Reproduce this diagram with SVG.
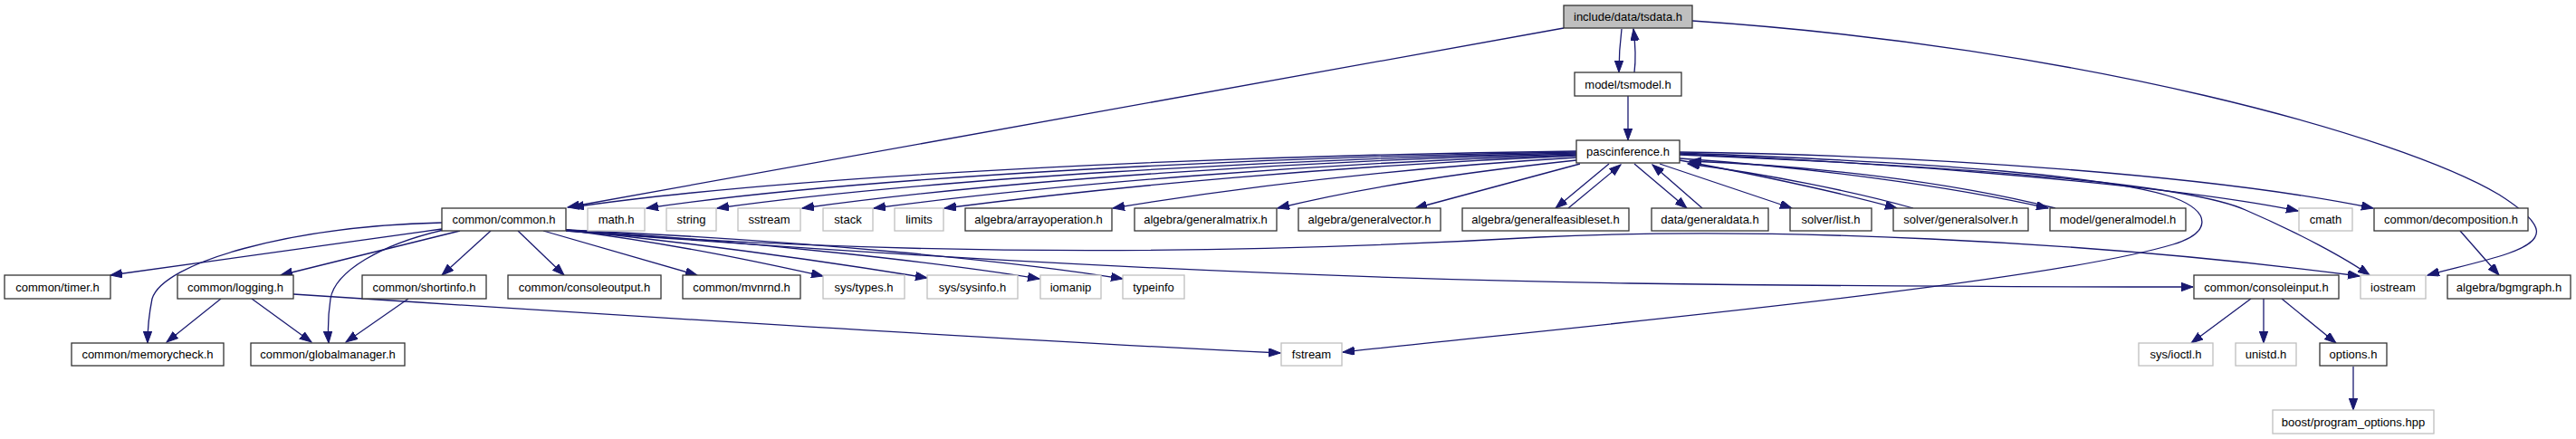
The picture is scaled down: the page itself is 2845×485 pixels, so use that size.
<svg xmlns="http://www.w3.org/2000/svg" width="2845" height="485" viewBox="0 0 2845 485">
<style>
.n rect{fill:#fff;stroke:#333;stroke-width:1.3}
.n.g rect{stroke:#bfbfbf}
.n.top rect{fill:#bfbfbf}
.n text{font-family:"Liberation Sans",Arial,sans-serif;font-size:13px;fill:#000;text-anchor:middle}
#edges path{fill:none;stroke:#191970;stroke-width:1.3;marker-end:url(#ah)}
</style>
<defs>
<marker id="ah" markerUnits="userSpaceOnUse" markerWidth="14" markerHeight="10" refX="13" refY="4.7" orient="auto">
<path d="M0,0 L13,4.7 L0,9.4 z" fill="#191970" stroke="#191970" stroke-width="1"/>
</marker>
</defs>
<rect width="2845" height="485" fill="#fff"/>
<g id="edges">
<path d="M1727,31 L627,229"/>
<path d="M1791,32 C1789,48 1788,64 1788,80"/>
<path d="M1805,80 C1807,64 1806,48 1804,32"/>
<path d="M1798,106 L1798,155"/>
<path d="M1869,23 C2300,52 2650,150 2760,215 C2815,250 2812,265 2770,280 C2740,290 2710,296 2681,304"/>
<path d="M1741,167 C1400,171 900,190 632,229"/>
<path d="M1741,168 C1400,173 950,195 714,230"/>
<path d="M1741,169 C1420,175 1020,198 792,230"/>
<path d="M1741,170 C1440,177 1100,200 886,230"/>
<path d="M1741,171 C1460,180 1170,203 965,230"/>
<path d="M1741,172 C1480,183 1230,206 1043,230"/>
<path d="M1741,174 C1560,185 1380,205 1229,230"/>
<path d="M1741,177 C1620,190 1500,208 1411,230"/>
<path d="M1745,181 L1563,230"/>
<path d="M1777,181 L1718,230"/>
<path d="M1732,230 L1790,182"/>
<path d="M1805,181 L1863,230"/>
<path d="M1880,230 L1825,182"/>
<path d="M1833,181 L1979,230"/>
<path d="M1855,177 C1950,195 2040,215 2095,230"/>
<path d="M2113,230 C2050,212 1950,192 1864,181"/>
<path d="M1855,175 C2000,185 2150,205 2262,230"/>
<path d="M2270,230 C2150,200 2000,183 1866,178"/>
<path d="M1855,170 C2100,180 2400,205 2538,233"/>
<path d="M1855,168 C2150,172 2450,195 2621,230"/>
<path d="M1855,171 C2200,185 2420,205 2480,232 C2540,258 2590,285 2617,304"/>
<path d="M1855,169 C2150,180 2330,195 2400,218 C2445,235 2440,258 2400,270 C2250,315 1700,365 1483,389"/>
<path d="M488,253 L122,304"/>
<path d="M488,246 C320,250 180,290 168,330 C164,350 163,365 163,379"/>
<path d="M490,254 C420,270 370,300 365,330 C362,350 362,365 363,379"/>
<path d="M508,255 L310,304"/>
<path d="M542,255 L488,304"/>
<path d="M572,255 L623,304"/>
<path d="M600,255 L770,304"/>
<path d="M625,254 C750,270 850,292 909,305"/>
<path d="M625,254 C800,272 950,295 1024,307"/>
<path d="M625,254 C850,268 1050,292 1148,308"/>
<path d="M625,254 C900,266 1130,290 1240,308"/>
<path d="M625,255 C850,272 1300,305 1800,313 C2100,317 2300,317 2422,317"/>
<path d="M625,255 C950,280 1300,285 1700,262 C1950,250 2300,265 2606,305"/>
<path d="M244,330 L184,378"/>
<path d="M278,330 L344,378"/>
<path d="M451,330 L382,378"/>
<path d="M324,325 C600,343 1100,375 1414,390"/>
<path d="M2486,330 L2420,379"/>
<path d="M2500,330 L2500,379"/>
<path d="M2520,330 L2580,379"/>
<path d="M2599,405 L2599,453"/>
<path d="M2717,255 L2760,304"/>
</g>
<g id="n_tsdata" class="n top"><rect x="1727" y="6" width="142" height="25"/><text x="1798" y="23">include/data/tsdata.h</text></g>
<g id="n_tsmodel" class="n"><rect x="1739" y="80" width="118" height="26"/><text x="1798" y="98">model/tsmodel.h</text></g>
<g id="n_pascinference" class="n"><rect x="1741" y="155" width="114" height="25"/><text x="1798" y="172">pascinference.h</text></g>
<g id="n_common" class="n"><rect x="488" y="230" width="137" height="25"/><text x="556.5" y="247">common/common.h</text></g>
<g id="n_math" class="n g"><rect x="649" y="230" width="63" height="25"/><text x="680.5" y="247">math.h</text></g>
<g id="n_string" class="n g"><rect x="736" y="230" width="55" height="25"/><text x="763.5" y="247">string</text></g>
<g id="n_sstream" class="n g"><rect x="815" y="230" width="69" height="25"/><text x="849.5" y="247">sstream</text></g>
<g id="n_stack" class="n g"><rect x="909" y="230" width="55" height="25"/><text x="936.5" y="247">stack</text></g>
<g id="n_limits" class="n g"><rect x="988" y="230" width="54" height="25"/><text x="1015" y="247">limits</text></g>
<g id="n_arrayoperation" class="n"><rect x="1066" y="230" width="162" height="25"/><text x="1147" y="247">algebra/arrayoperation.h</text></g>
<g id="n_generalmatrix" class="n"><rect x="1253" y="230" width="157" height="25"/><text x="1331.5" y="247">algebra/generalmatrix.h</text></g>
<g id="n_generalvector" class="n"><rect x="1434" y="230" width="157" height="25"/><text x="1512.5" y="247">algebra/generalvector.h</text></g>
<g id="n_generalfeasibleset" class="n"><rect x="1615" y="230" width="184" height="25"/><text x="1707" y="247">algebra/generalfeasibleset.h</text></g>
<g id="n_generaldata" class="n"><rect x="1824" y="230" width="129" height="25"/><text x="1888.5" y="247">data/generaldata.h</text></g>
<g id="n_list" class="n"><rect x="1977" y="230" width="90" height="25"/><text x="2022" y="247">solver/list.h</text></g>
<g id="n_generalsolver" class="n"><rect x="2091" y="230" width="149" height="25"/><text x="2165.5" y="247">solver/generalsolver.h</text></g>
<g id="n_generalmodel" class="n"><rect x="2264" y="230" width="150" height="25"/><text x="2339" y="247">model/generalmodel.h</text></g>
<g id="n_cmath" class="n g"><rect x="2539" y="230" width="59" height="25"/><text x="2568.5" y="247">cmath</text></g>
<g id="n_decomposition" class="n"><rect x="2622" y="230" width="170" height="25"/><text x="2707" y="247">common/decomposition.h</text></g>
<g id="n_timer" class="n"><rect x="5" y="304" width="117" height="26"/><text x="63.5" y="322">common/timer.h</text></g>
<g id="n_logging" class="n"><rect x="196" y="304" width="128" height="26"/><text x="260" y="322">common/logging.h</text></g>
<g id="n_shortinfo" class="n"><rect x="400" y="304" width="137" height="26"/><text x="468.5" y="322">common/shortinfo.h</text></g>
<g id="n_consoleoutput" class="n"><rect x="561" y="304" width="169" height="26"/><text x="645.5" y="322">common/consoleoutput.h</text></g>
<g id="n_mvnrnd" class="n"><rect x="754" y="304" width="130" height="26"/><text x="819" y="322">common/mvnrnd.h</text></g>
<g id="n_systypes" class="n g"><rect x="909" y="304" width="90" height="26"/><text x="954" y="322">sys/types.h</text></g>
<g id="n_syssysinfo" class="n g"><rect x="1024" y="304" width="100" height="26"/><text x="1074" y="322">sys/sysinfo.h</text></g>
<g id="n_iomanip" class="n g"><rect x="1149" y="304" width="67" height="26"/><text x="1182.5" y="322">iomanip</text></g>
<g id="n_typeinfo" class="n g"><rect x="1240" y="304" width="68" height="26"/><text x="1274" y="322">typeinfo</text></g>
<g id="n_consoleinput" class="n"><rect x="2423" y="304" width="160" height="26"/><text x="2503" y="322">common/consoleinput.h</text></g>
<g id="n_iostream" class="n g"><rect x="2607" y="304" width="72" height="26"/><text x="2643" y="322">iostream</text></g>
<g id="n_bgmgraph" class="n"><rect x="2703" y="304" width="136" height="26"/><text x="2771" y="322">algebra/bgmgraph.h</text></g>
<g id="n_memorycheck" class="n"><rect x="79" y="379" width="168" height="25"/><text x="163" y="396">common/memorycheck.h</text></g>
<g id="n_globalmanager" class="n"><rect x="277" y="379" width="170" height="25"/><text x="362" y="396">common/globalmanager.h</text></g>
<g id="n_fstream" class="n g"><rect x="1415" y="379" width="67" height="25"/><text x="1448.5" y="396">fstream</text></g>
<g id="n_ioctl" class="n g"><rect x="2362" y="379" width="82" height="25"/><text x="2403" y="396">sys/ioctl.h</text></g>
<g id="n_unistd" class="n g"><rect x="2469" y="379" width="67" height="25"/><text x="2502.5" y="396">unistd.h</text></g>
<g id="n_options" class="n"><rect x="2562" y="379" width="74" height="25"/><text x="2599" y="396">options.h</text></g>
<g id="n_boost" class="n g"><rect x="2510" y="453" width="178" height="26"/><text x="2599" y="471">boost/program_options.hpp</text></g>
</svg>
